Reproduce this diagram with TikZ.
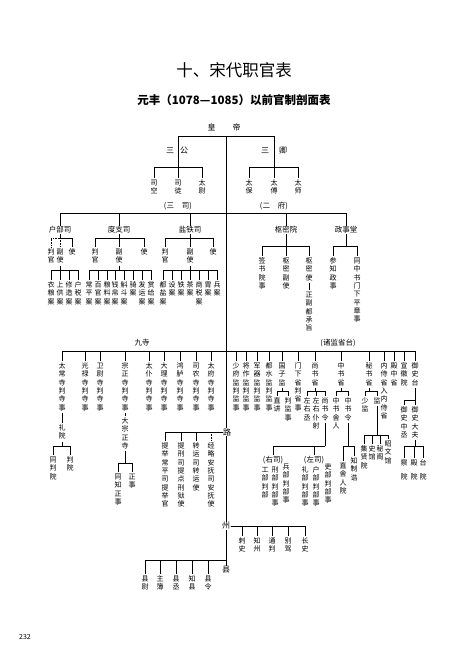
\documentclass[tikz,border=0pt]{standalone}
\usepackage{fontspec}
\setmainfont{Noto Sans CJK SC}

% one character per line, for the upright columns
\newcommand\vstack[1]{\vbox{\offinterlineskip\expandafter\vstackchars#1\relax}}
\def\vstackchars#1{\ifx#1\relax\else
	\hbox to 7pt{\hss\vrule height 6.6pt depth 1.7pt width 0pt\relax#1\hss}%
	\expandafter\vstackchars\fi}
\newcommand\vstackgap[2]{\vbox{\offinterlineskip\vstackchars#1\relax\vskip 5.5pt\vstackchars#2\relax}}
% parent -> bar at height #3 -> children
\newcommand\branch[4][]{%
	\draw[conn,#1] (#2.south) -- (#2.south |- 0,#3);
	\foreach \ch in {#4}{\draw[conn,#1] (#2.south |- 0,#3) -| (\ch.north);}%
}

\begin{document}
\begin{tikzpicture}[x=1pt,y=-1pt,
		conn/.style={line width=0.6pt},
		vlab/.style={anchor=north,inner sep=0pt,outer sep=1pt,font=\fontsize{7}{8}\selectfont},
		hlab/.style={inner sep=0.5pt,outer sep=0.5pt,font=\fontsize{7.5}{9}\selectfont},
		headlab/.style={inner sep=0.5pt,font=\fontsize{8}{10}\selectfont}]
		\fill[white] (0,0) rectangle (474,670);
		\useasboundingbox (0,0) rectangle (474,670);
		\node[font=\fontsize{16.5}{18}\selectfont] (title) at (234,70) {十、宋代职官表};
		\node[font=\bfseries\fontsize{11.5}{13}\selectfont] (subtitle) at (234,100) {元丰（1078—1085）以前官制剖面表};
		% emperor, three dukes, three ministers
		\node[headlab] (emp) at (224,127) {皇\hspace{17pt}帝};
		\coordinate (spine0) at (226,136);
		\coordinate (gl) at (178,136);
		\coordinate (gr) at (274,136);
		\draw[conn] (gl) -- (gr);
		\node[headlab] (sg) at (177,151) {三\hspace{6pt}公};
		\node[headlab] (sq) at (274,151) {三\hspace{10pt}卿};
		\coordinate (sgb) at (178,167);
		\coordinate (sqb) at (274,167);
		\draw[conn] (gl) -- (sgb);
		\draw[conn] (gr) -- (sqb);
		\foreach \x/\n/\txt in {154/sk/司空,178/st/司徒,202/tw/太尉,249/tb/太保,274/tf/太傅,298/ts/太师}
			\node[vlab] (\n) at (\x,178) {\vstack{\txt}};
		\foreach \ch in {sk,st,tw} \draw[conn] (sgb) -| (\ch.north);
		\foreach \ch in {tb,tf,ts} \draw[conn] (sqb) -| (\ch.north);
		\node[hlab] (sansi) at (178,206) {(三\hspace{8pt}司)};
		\node[hlab] (erfu) at (274,206) {(二\hspace{8pt}府)};
		% san si / er fu
		\coordinate (j1) at (226,213);
		\node[hlab] (hbs) at (60,230) {户部司};
		\node[hlab] (dzs) at (119,230) {度支司};
		\node[hlab] (yts) at (190,230) {盐铁司};
		\node[hlab] (smy) at (286,230) {枢密院};
		\node[hlab] (zst) at (346,230) {政事堂};
		\foreach \ch in {hbs,dzs,yts,smy,zst} \draw[conn] (j1) -| (\ch.north);
		\foreach \x/\n/\txt in {51/hbpg/判官,60/hbfs/副使,72/hbsh/使,95/dzpg/判官,119/dzfs/副使,144/dzsh/使,
			165/ytpg/判官,190/ytfs/副使,213/ytsh/使}
			\node[vlab] (\n) at (\x,247) {\vstack{\txt}};
		\branch[densely dotted]{hbs}{238}{hbpg,hbfs}
		\branch{hbs}{238}{hbsh}
		\branch{dzs}{238}{dzpg,dzfs,dzsh}
		\branch{yts}{238}{ytpg,ytfs,ytsh}
		\foreach \x/\n/\txt in {51/ha1/衣粮案,60/ha2/上供案,69/ha3/修造案,78/ha4/户税案,
			89/da1/常平案,98/da2/百官案,107/da3/粮料案,115/da4/钱帛案,124/da5/斛斗案,133/da6/骑案,142/da7/发运案,151/da8/赏给案,
			163/ya1/都盐案,172/ya2/设案,181/ya3/铁案,190/ya4/茶案,199/ya5/商税案,208/ya6/胄案,217/ya7/兵案}
			\node[vlab] (\n) at (\x,280) {\vstack{\txt}};
		\branch{hbfs}{270}{ha1,ha2,ha3,ha4}
		\branch{dzfs}{270}{da1,da2,da3,da4,da5,da6,da7,da8}
		\branch{ytfs}{270}{ya1,ya2,ya3,ya4,ya5,ya6,ya7}
		\foreach \x/\n/\txt in {262/smqs/签书院事,286/smfs/枢密副使,309/smsh/枢密使,333/zscz/参知政事,357/zstz/同中书门下平章事}
			\node[vlab] (\n) at (\x,256) {\vstack{\txt}};
		\branch{smy}{246}{smqs,smfs,smsh}
		\branch{zst}{246}{zscz,zstz}
		\node[vlab] (smcz) at (309,290) {\vstack{正副都承旨}};
		\draw[conn] (smsh.south) -- (smcz.north);
		% nine courts and the directorates
		\node[hlab] (jiusi) at (142,343) {九寺};
		\node[hlab] (zhujian) at (338,343) {(诸监省台)};
		\coordinate (j2) at (226,351);
		\foreach \x/\n/\txt in {62/jq1/太常寺判寺事,85/jq2/光禄寺判寺事,100/jq3/卫尉寺判寺事,125/jq4/宗正寺判寺事,
			149/jq5/太仆寺判寺事,164/jq6/大理寺判寺事,180/jq7/鸿胪寺判寺事,196/jq8/司农寺判寺事,211/jq9/太府寺判寺事,
			236/jz1/少府监判监事,246/jz2/将作监判监事,257/jz3/军器监判监事,269/jz4/都水监判监事,282/jz5/国子监,
			298/jz6/门下省判省事,315/jz7/尚书省,341/jz8/中书省,369/jz9/秘书省,384/jz10/内侍省入内侍省,
			394/jz11/殿中省,404/jz12/宣徽院,415/jz13/御史台}
			\node[vlab] (\n) at (\x,361) {\vstack{\txt}};
		\foreach \ch in {jq1,jq2,jq3,jq4,jq5,jq6,jq7,jq8,jq9,jz1,jz2,jz3,jz4,jz5,jz6,jz7,jz8,jz9,jz10,jz11,jz12,jz13}
			\draw[conn] (j2) -| (\ch.north);
		\node[vlab] (lyuan) at (62,423) {\vstack{礼院}};
		\draw[conn] (jq1.south) -- (lyuan.north);
		\node[vlab] (tpy) at (53,455) {\vstack{同判院}};
		\node[vlab] (py) at (70,455) {\vstack{判院}};
		\branch{lyuan}{446}{tpy,py}
		\node[vlab] (dzz) at (125,416) {\vstack{大宗正寺}};
		\draw[conn] (jq4.south) -- (dzz.north);
		\node[vlab] (tzzs) at (118,472) {\vstack{同知正事}};
		\node[vlab] (zzs) at (132,472) {\vstack{正事}};
		\branch{dzz}{463}{tzzs,zzs}
		\foreach \x/\n/\txt in {277/zj/直讲,288/pjs/判监事,307/zyc/左右丞,316/zypy/左右仆射,325/ssl/尚书令,
			336/zssr/中书舍人,348/zsl/中书令,365/sj/少监,377/jian/监}
			\node[vlab] (\n) at (\x,396) {\vstack{\txt}};
		\branch{jz5}{391}{zj,pjs}
		\branch{jz7}{391}{zyc,zypy,ssl}
		\branch{jz8}{391}{zssr,zsl}
		\branch{jz9}{391}{sj,jian}
		\node[hlab] (yousi) at (273,460) {(右司)};
		\node[hlab] (zuosi) at (314,460) {(左司)};
		\branch{ssl}{446}{yousi,zuosi}
		\foreach \x/\y/\n/\txt in {265/465/gb/工部判部,275/465/xb/刑部判部事,286/462/bb/兵部判部事,
			305/465/lb/礼部判部事,316/465/hb/户部判部事,328/462/lib/吏部判部事}
			\node[vlab] (\n) at (\x,\y) {\vstack{\txt}};
		\node[vlab] (zsry) at (343,461) {\vstack{直舍人院}};
		\node[vlab] (zzg) at (354,456) {\vstack{知制诰}};
		\branch{zsl}{446}{zsry,zzg}
		\foreach \x/\y/\n/\txt in {364/444/jxy/集贤院,372/444/sgu/史馆,380/444/mge/秘阁,388/439/zwg/昭文馆}
			\node[vlab] (\n) at (\x,\y) {\vstack{\txt}};
		\branch{jian}{435}{jxy,sgu,mge,zwg}
		\node[vlab] (yszc) at (404,405) {\vstack{御史中丞}};
		\node[vlab] (ysdf) at (415,405) {\vstack{御史大夫}};
		\branch{jz13}{400}{yszc,ysdf}
		\node[vlab] (cy) at (404,458) {\vstackgap{察}{院}};
		\node[vlab] (dy) at (414,458) {\vstackgap{殿}{院}};
		\node[vlab] (ty) at (423,458) {\vstackgap{台}{院}};
		\branch{ysdf}{446}{cy,dy,ty}
		% circuits, prefectures, counties
		\node[headlab] (xian) at (226,570) {县};
		\draw[conn] (spine0) -- (xian.north);
		\node[headlab,fill=white] (lu) at (227,432) {路};
		\node[headlab,fill=white] (zhou) at (226,526) {州};
		\foreach \x/\n/\txt in {165/l1/提举常平司提举官,181/l2/提刑司提点刑狱使,196/l3/转运司转运使,211/l4/经略安抚司安抚使}
			\node[vlab] (\n) at (\x,441) {\vstack{\txt}};
		\foreach \ch in {l1,l2,l3} \draw[conn] (lu.west) -| (\ch.north);
		\draw[conn,densely dotted] (lu.west) -| (l4.north);
		\foreach \x/\n/\txt in {242/z1/刺史,257/z2/知州,272/z3/通判,288/z4/别驾,305/z5/长史}
			\node[vlab] (\n) at (\x,536) {\vstack{\txt}};
		\foreach \ch in {z1,z2,z3,z4,z5} \draw[conn] (zhou.east) -| (\ch.north);
		\coordinate (j4) at (226,560);
		\foreach \x/\n/\txt in {145/x1/县尉,160/x2/主簿,176/x3/县丞,192/x4/知县,208/x5/县令}
			\node[vlab] (\n) at (\x,574) {\vstack{\txt}};
		\foreach \ch in {x1,x2,x3,x4,x5} \draw[conn] (j4) -| (\ch.north);
		\node[font=\fontsize{7}{8}\selectfont] (page) at (25,637) {232};
	\end{tikzpicture}
\end{document}
